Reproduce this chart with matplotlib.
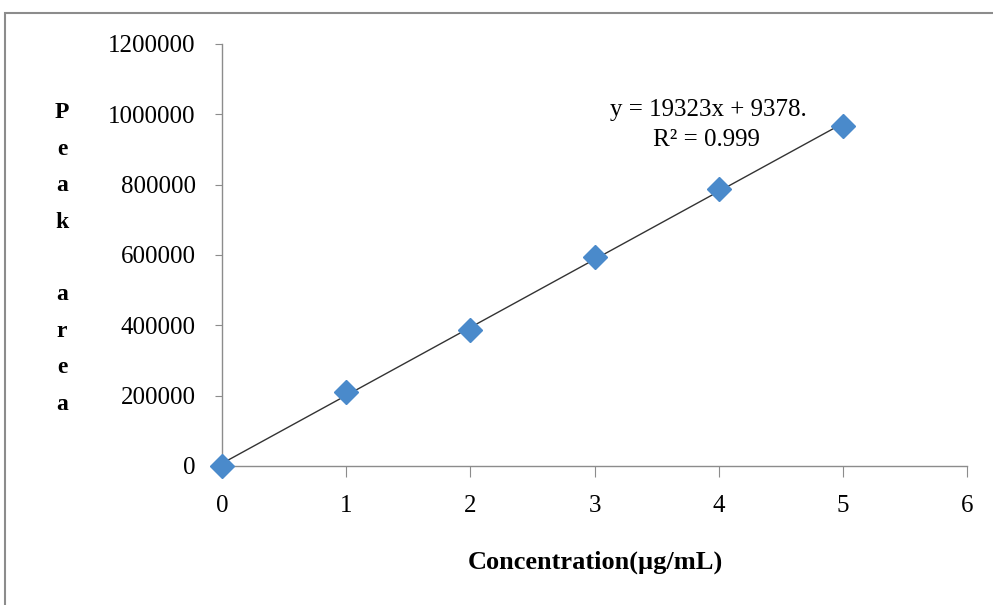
import numpy as np
import matplotlib.pyplot as plt
from matplotlib.patches import Rectangle

# calibration data
conc = [0, 1, 2, 3, 4, 5]
peak_area = [0, 210000, 387000, 594000, 787000, 966000]
x_ticks = [0, 1, 2, 3, 4, 5, 6]
y_ticks = [0, 200000, 400000, 600000, 800000, 1000000, 1200000]
eq_text = "y = 19323x + 9378."
r2_text = "R\u00b2 = 0.999"
ylabel_letters = ["P", "e", "a", "k", "", "a", "r", "e", "a"]

plt.rcParams["font.family"] = ["Liberation Serif", "DejaVu Serif"]

fig = plt.figure(figsize=(9.93, 6.05), dpi=100)
ax = fig.add_axes([0.2236, 0.2298, 0.7502, 0.6975])

# outer chart frame
fig.add_artist(Rectangle((5 / 993, -0.05), 1.2, 1 - 13 / 605 + 0.05,
                         transform=fig.transFigure, fill=False,
                         edgecolor="#8c8c8c", linewidth=1.5))

# linear trendline
slope, intercept = np.polyfit(conc, peak_area, 1)
xs = np.array([conc[0], conc[-1]])
ax.plot(xs, slope * xs + intercept, color="#333333", linewidth=1.0, zorder=2)

ax.plot(conc, peak_area, linestyle="none", marker="D", markersize=12,
        color="#4a8acb", markeredgecolor="#4a8acb", zorder=3, clip_on=False)

ax.set_xlim(0, 6)
ax.set_ylim(0, 1200000)
ax.set_xticks(x_ticks)
ax.set_yticks(y_ticks)
ax.set_xticklabels([str(v) for v in x_ticks])
ax.set_yticklabels([str(v) for v in y_ticks])

for side in ("top", "right"):
    ax.spines[side].set_visible(False)
for side in ("left", "bottom"):
    ax.spines[side].set_color("#8c8c8c")
    ax.spines[side].set_linewidth(1.0)

ax.tick_params(axis="x", direction="out", length=8, color="#8c8c8c",
               labelsize=18, pad=13)
ax.tick_params(axis="y", direction="out", length=5, color="#8c8c8c",
               labelsize=18, pad=14)

ax.text(708 / 993, 1 - 110 / 605, eq_text, transform=fig.transFigure,
        ha="center", va="center", fontsize=18)
ax.text(706 / 993, 1 - 140 / 605, r2_text, transform=fig.transFigure,
        ha="center", va="center", fontsize=18)

fig.text(595 / 993, 1 - 562 / 605, "Concentration(\u00b5g/mL)",
         ha="center", va="center", fontsize=19, fontweight="bold")

for i, letter in enumerate(ylabel_letters):
    fig.text(62 / 993, 1 - (113 + i * 36.4) / 605, letter,
             ha="center", va="center", fontsize=17, fontweight="bold")

fig.savefig("out.png", dpi=100)
